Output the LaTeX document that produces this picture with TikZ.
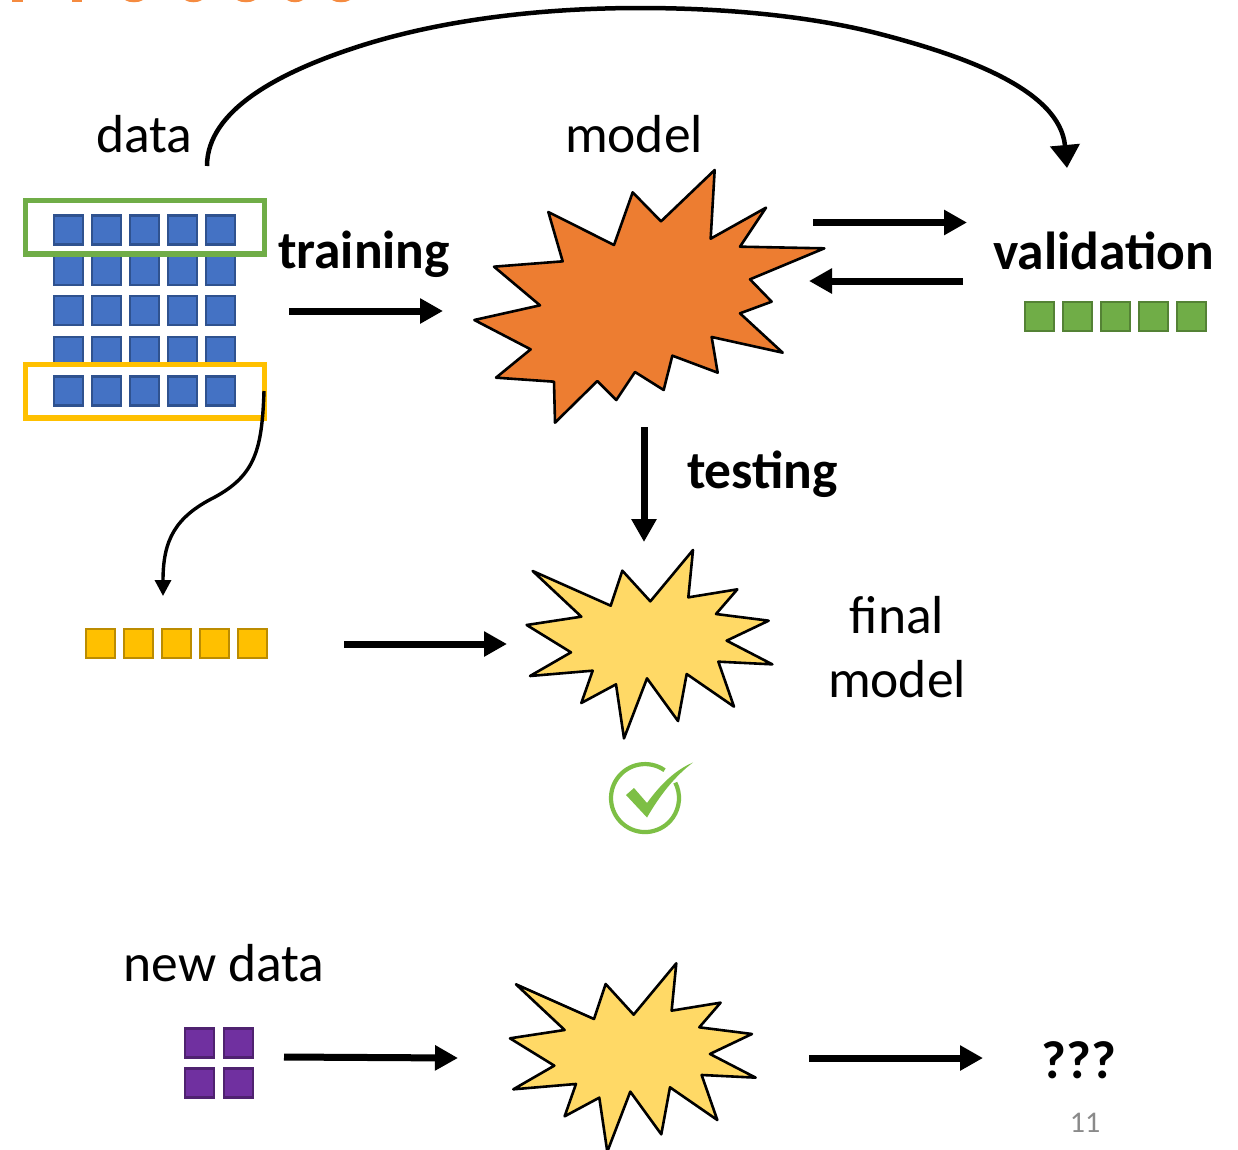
\documentclass[tikz,border=0pt]{standalone}
\usepackage{fontspec}
\setmainfont{Carlito}
\usetikzlibrary{arrows.meta}
\definecolor{bluefill}{HTML}{4472C4}\definecolor{blueline}{HTML}{2F528F}
\definecolor{greenfill}{HTML}{70AD47}\definecolor{greenline}{HTML}{548235}
\definecolor{goldfill}{HTML}{FFC000}\definecolor{goldline}{HTML}{BC8C00}
\definecolor{purplefill}{HTML}{7030A0}\definecolor{purpleline}{HTML}{4F2270}
\definecolor{starorange}{HTML}{ED7D31}\definecolor{staryellow}{HTML}{FFD966}
\definecolor{checkgreen}{HTML}{7DBF45}\definecolor{titleorange}{HTML}{F58B40}
\definecolor{pagegray}{HTML}{8A8A8A}
\tikzset{
 cell/.style={rectangle,minimum size=29pt,inner sep=0pt,line width=2.2pt},
 bluecell/.style={cell,fill=bluefill,draw=blueline},
 greencell/.style={cell,fill=greenfill,draw=greenline},
 goldcell/.style={cell,fill=goldfill,draw=goldline},
 purplecell/.style={cell,fill=purplefill,draw=purpleline},
 frame/.style={fill=white,line width=5.5pt,miter limit=10},
 burst/.style={draw=black,line width=2.6pt,line join=round},
 label/.style={inner sep=0pt,font=\fontsize{53.5}{60}\selectfont,text=black},
 boldlabel/.style={label,font=\fontsize{53.5}{60}\selectfont\bfseries},
 flow/.style={line width=7pt,-{Triangle[length=23pt,width=24pt]},shorten >=0pt},
}
\newcommand{\yellowburst}[2]{%
\fill[burst,fill=staryellow,shift={(#1,#2)},x=0.33333pt,y=-0.33333pt]
 (50,255)--(183,337)--(60,408)--(248,392)--(214,489)--(318,433)--(342,595)--(411,415)--(504,543)--(530,402)--(672,500)--(625,365)--(787,373)--(650,302)--(776,242)--(618,222)--(682,148)--(535,172)--(549,30)--(421,184)--(337,92)--(302,197)--(68,93)--(214,230)--cycle;}
\begin{document}
\begin{tikzpicture}[x=1pt,y=-1pt]
\useasboundingbox[fill=white] (0,0) rectangle (1238,1149);
% cropped title remnants
\begin{scope}[titleorange]
\fill (12,0) rectangle (23,2);
\fill (72,0) rectangle (82,2);
\fill (125,0) .. controls (129,3) and (139,3) .. (143,0) -- cycle;
\fill (185,0) .. controls (189,3) and (198,3) .. (202,0) -- cycle;
\fill (237,0) .. controls (241,3) and (251,3) .. (255,0) -- cycle;
\fill (287,0) .. controls (291,3) and (299,3) .. (303,0) -- cycle;
\fill (332,0) .. controls (336,3) and (346,3) .. (350,0) -- cycle;
\end{scope}
% data grid: hidden rows first
\foreach \r/\y in {2/270.2,3/310.8,4/351.2}
 \foreach \c/\x in {1/68.8,2/106.8,3/144.8,4/182.8,5/220.8}
  \node[bluecell] (d\r\c) at (\x,\y) {};
\draw[frame,draw=greenfill] (25.7,200.5) rectangle (264.5,254.2);
\draw[frame,draw=goldfill] (25.7,364.5) rectangle (264.5,418);
\foreach \r/\y in {1/230,5/391}
 \foreach \c/\x in {1/68.8,2/106.8,3/144.8,4/182.8,5/220.8}
  \node[bluecell] (d\r\c) at (\x,\y) {};
% other cells
\foreach \c/\x in {1/1039.8,2/1077.8,3/1115.8,4/1153.8,5/1191.8}
 \node[greencell] (v\c) at (\x,316.5) {};
\foreach \c/\x in {1/100.8,2/138.8,3/176.8,4/214.8,5/252.8}
 \node[goldcell] (t\c) at (\x,643.5) {};
\node[purplecell] (n1) at (199.3,1043) {};
\node[purplecell] (n2) at (238.3,1043) {};
\node[purplecell] (n3) at (199.3,1083) {};
\node[purplecell] (n4) at (238.3,1083) {};
% bursts
\fill[burst,fill=starorange,shift={(460,160)},x=0.33333pt,y=-0.33333pt]
 (43,480)--(212,568)--(108,653)--(282,665)--(285,788)--(412,663)--(469,720)--(525,636)--(611,690)--(637,587)--(773,638)--(755,531)--(968,578)--(840,460)--(935,425)--(870,358)--(1093,265)--(840,260)--(918,143)--(752,236)--(764,30)--(603,184)--(518,97)--(462,255)--(265,156)--(308,304)--(102,320)--(240,436)--cycle;
\yellowburst{510}{540}
\yellowburst{493.3}{953.3}
% check mark
\draw[checkgreen,line width=4.2pt] (664.5,770.2) arc[start angle=-55,end angle=-387,radius=34];
\fill[checkgreen] (626,795) -- (634,788) -- (647,803) .. controls (660,785) and (675,770) .. (693,762.5) .. controls (675,776) and (660,795) .. (647,817.5) -- cycle;
% labels
\node[label] (datal) at (144.5,134) {data};
\node[label] (modell) at (634,134) {model};
\node[boldlabel] (trainl) at (364,254.5) {training};
\node[boldlabel] (vall) at (1103.5,251) {validation};
\node[boldlabel] (testl) at (762.5,474.5) {testing};
\node[label] (finall) at (897,615) {final};
\node[label] (finalm) at (897,679.5) {model};
\node[label] (newl) at (224,963.5) {new data};
\node[boldlabel] (unk) at (1079,1060) {???};
\node[inner sep=0pt,font=\fontsize{30}{36}\selectfont,text=pagegray] (page) at (1085,1123) {11};
% connector ends
\coordinate (a1) at (289,311); \coordinate (a2) at (443,311);
\coordinate (b1) at (813,222.5); \coordinate (b2) at (967,222.5);
\coordinate (c1) at (963,281); \coordinate (c2) at (809,281);
\coordinate (e1) at (644,427); \coordinate (e2) at (644,542);
\coordinate (f1) at (344,644); \coordinate (f2) at (507,644);
\coordinate (g1) at (284,1057); \coordinate (g2) at (458,1058);
\coordinate (h1) at (809,1058); \coordinate (h2) at (983,1058);
\coordinate (u1) at (207,166); \coordinate (u2) at (1067,168);
\coordinate (s1) at (264,391); \coordinate (s2) at (163,596);
\draw[flow] (a1) -- (a2);
\draw[flow] (b1) -- (b2);
\draw[flow] (c1) -- (c2);
\draw[flow] (e1) -- (e2);
\draw[flow] (f1) -- (f2);
\draw[flow] (g1) -- (g2);
\draw[flow] (h1) -- (h2);
\draw[line width=4.5pt,-{Triangle[length=23pt,width=29pt]}] (u1) .. controls (207,110) and (280,72) .. (357,47) .. controls (440,20) and (540,8) .. (640,8) .. controls (730,8) and (815,17) .. (880,34) .. controls (965,56) and (1060,90) .. (u2);
\draw[line width=3.4pt,-{Triangle[length=16pt,width=16pt]}] (s1) .. controls (262,450) and (255,475) .. (215,497) .. controls (175,517) and (163,540) .. (s2);
\end{tikzpicture}
\end{document}
